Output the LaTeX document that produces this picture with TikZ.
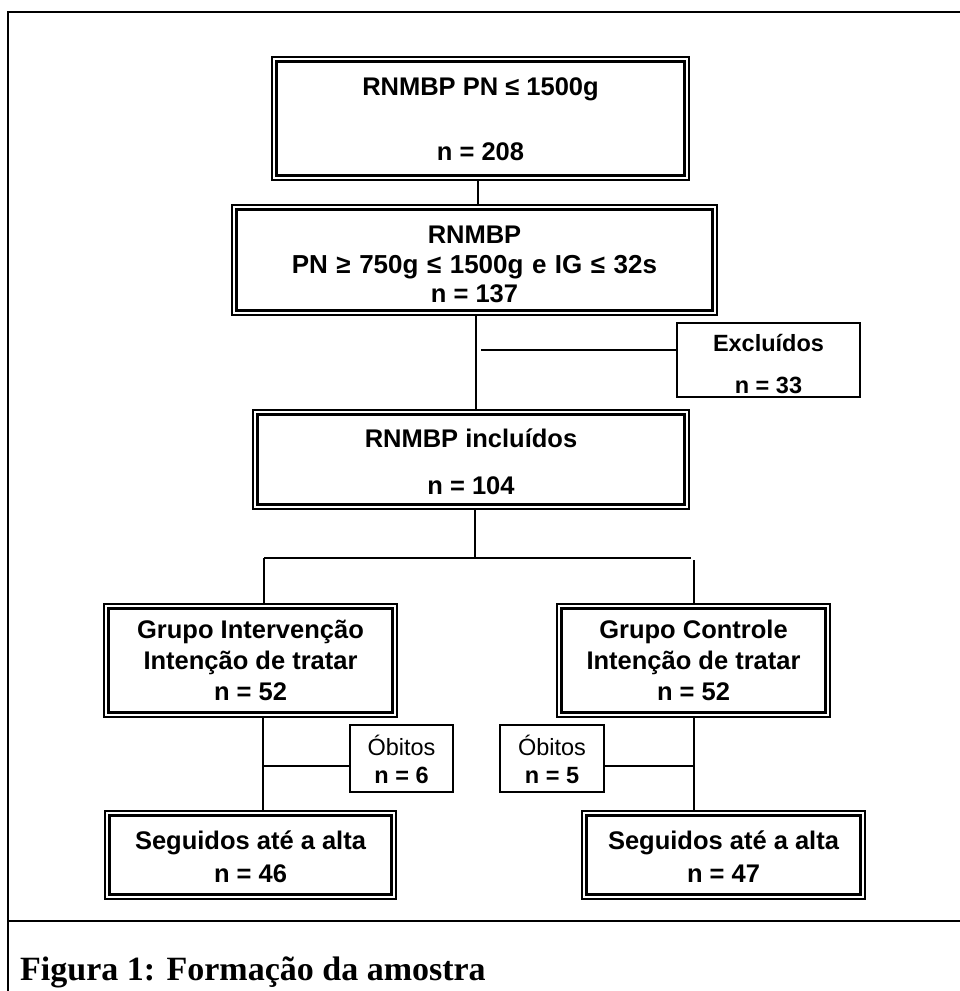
\documentclass[tikz,border=0pt]{standalone}
\usepackage{fontspec}
\newfontfamily\arialf{Liberation Sans}
\newfontfamily\timesf{Liberation Serif}
\newcommand{\wsp}{\hspace{8.5pt}}
\begin{document}
\begin{tikzpicture}[x=1pt,y=-1pt,
  conn/.style={line width=1.5pt},
  frameline/.style={line width=2pt},
  outerbox/.style={draw, rectangle, line width=1.4pt, inner sep=0pt, outer sep=0pt},
  innerline/.style={line width=2.6pt},
  simplebox/.style={draw, rectangle, line width=1.6pt, inner sep=0pt, outer sep=0pt},
  bigtxt/.style={anchor=base, inner sep=0pt, font=\arialf\bfseries\fontsize{25.5}{30}\selectfont},
  widetxt/.style={anchor=base, inner sep=0pt, font=\arialf\bfseries\fontsize{26}{30}\selectfont},
  smalltxt/.style={anchor=base, inner sep=0pt, font=\arialf\bfseries\fontsize{23.5}{28}\selectfont},
  smallreg/.style={anchor=base, inner sep=0pt, font=\arialf\fontsize{23.5}{28}\selectfont},
  captxt/.style={anchor=base west, inner sep=0pt, font=\timesf\bfseries\fontsize{34}{40}\selectfont}
]
\useasboundingbox (0,0) rectangle (959,991);

% frame
\coordinate (ftl) at (8,12);
\coordinate (ftr) at (962,12);
\coordinate (fbl) at (8,995);
\coordinate (dl) at (8,921);
\coordinate (dr) at (962,921);
\draw[frameline] (ftr) -- (ftl) -- (fbl);
\draw[frameline] (dl) -- (dr);

% boxes
\node[outerbox, minimum width=417pt, minimum height=123pt] (b1) at (480.5,118.5) {};
\node[outerbox, minimum width=485pt, minimum height=110pt] (b2) at (474.5,260) {};
\node[outerbox, minimum width=436pt, minimum height=99pt] (b3) at (471,459.5) {};
\node[simplebox, minimum width=183pt, minimum height=74pt] (ex) at (768.5,360) {};
\node[outerbox, minimum width=293pt, minimum height=113pt] (gl) at (250.5,660.5) {};
\node[outerbox, minimum width=273pt, minimum height=113pt] (gr) at (693.5,660.5) {};
\node[simplebox, minimum width=103pt, minimum height=67pt] (ol) at (401.5,758.5) {};
\node[simplebox, minimum width=104pt, minimum height=67pt] (or) at (552,758.5) {};
\node[outerbox, minimum width=291pt, minimum height=88pt] (sl) at (250.5,855) {};
\node[outerbox, minimum width=283pt, minimum height=88pt] (sr) at (723.5,855) {};

\foreach \n in {b1,b2,b3,gl,gr,sl,sr}
  \draw[innerline] ([xshift=4.4pt,yshift=-4.4pt]\n.north west) rectangle ([xshift=-4.4pt,yshift=4.4pt]\n.south east);

% texts
\node[bigtxt] (t1a) at (480.5,95) {RNMBP PN ≤ 1500g};
\node[bigtxt] (t1b) at (480.5,160) {n = 208};
\node[bigtxt] (t2a) at (474.5,243) {RNMBP};
\node[widetxt] (t2b) at (474.5,273) {PN\wsp≥\wsp750g\wsp≤\wsp1500g\wsp e\wsp IG\wsp≤\wsp32s};
\node[bigtxt] (t2c) at (474.5,302) {n = 137};
\node[bigtxt] (t3a) at (471,447) {RNMBP incluídos};
\node[bigtxt] (t3b) at (471,494) {n = 104};
\node[smalltxt] (exa) at (768.5,351) {Excluídos};
\node[smalltxt] (exb) at (768.5,393) {n = 33};
\node[bigtxt] (gla) at (250.5,638) {Grupo Intervenção};
\node[bigtxt] (glb) at (250.5,669) {Intenção de tratar};
\node[bigtxt] (glc) at (250.5,700) {n = 52};
\node[bigtxt] (gra) at (693.5,638) {Grupo Controle};
\node[bigtxt] (grb) at (693.5,669) {Intenção de tratar};
\node[bigtxt] (grc) at (693.5,700) {n = 52};
\node[smallreg] (ola) at (401.5,755) {Óbitos};
\node[smalltxt] (olb) at (401.5,783) {n = 6};
\node[smallreg] (ora) at (552,755) {Óbitos};
\node[smalltxt] (orb) at (552,783) {n = 5};
\node[bigtxt] (sla) at (250.5,849) {Seguidos até a alta};
\node[bigtxt] (slb) at (250.5,882) {n = 46};
\node[bigtxt] (sra) at (723.5,849) {Seguidos até a alta};
\node[bigtxt] (srb) at (723.5,882) {n = 47};
\node[captxt] (cap) at (20,980) {Figura 1: Formação da amostra};

% connectors
\coordinate (c1) at (478,0);
\draw[conn] (c1 |- b1.south) -- (c1 |- b2.north);
\coordinate (c2) at (476,0);
\draw[conn] (c2 |- b2.south) -- (c2 |- b3.north);
\coordinate (exj) at (481,350);
\draw[conn] (exj) -- (exj -| ex.west);
\coordinate (split) at (475,558);
\draw[conn] (split |- b3.south) -- (split);
\coordinate (hl) at (264,558);
\coordinate (hr) at (691,558);
\draw[conn] (hl) -- (hr);
\draw[conn] (hl) -- (hl |- gl.north);
\coordinate (vr) at (694,560);
\draw[conn] (vr) -- (vr |- gr.north);
\coordinate (jl) at (263,766);
\draw[conn] (jl |- gl.south) -- (jl |- sl.north);
\draw[conn] (jl) -- (jl -| ol.west);
\coordinate (jr) at (694,766);
\draw[conn] (jr |- gr.south) -- (jr |- sr.north);
\draw[conn] (or.east |- jr) -- (jr);
\end{tikzpicture}
\end{document}
